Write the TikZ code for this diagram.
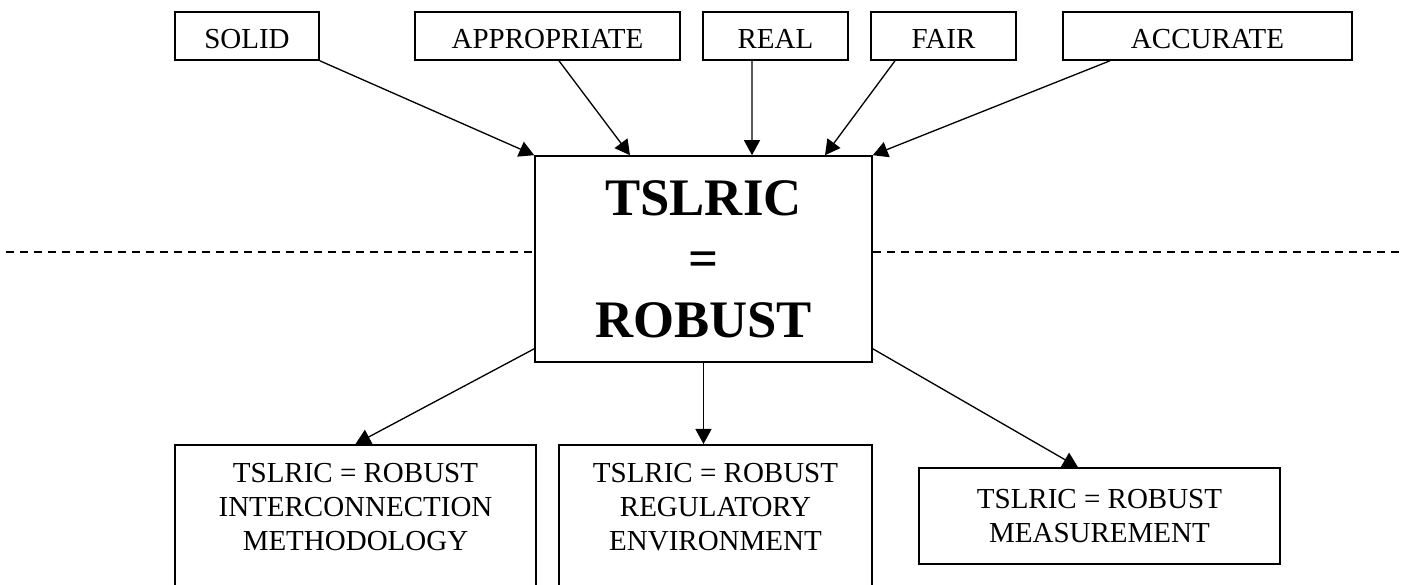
\documentclass[tikz,border=0pt]{standalone}
\usepackage{fontspec}
\setmainfont{Liberation Serif}
\usetikzlibrary{arrows.meta}

\begin{document}
\begin{tikzpicture}[
  quality/.style={draw,line width=0.9pt,minimum height=0.96cm,inner sep=0pt,text height=14.8pt,text depth=0pt,font=\fontsize{16.5}{19.3}\selectfont},
  hub/.style={draw,line width=0.9pt,minimum width=6.74cm,minimum height=4.12cm,align=center,font=\fontsize{30}{34.7}\selectfont\bfseries},
  outcome/.style={draw,line width=0.9pt,minimum width=7.22cm,inner xsep=0pt,inner ysep=0.38cm,align=center,font=\fontsize{16.5}{19.3}\selectfont},
  link/.style={line width=0.75pt,-{Triangle[length=0.3cm,width=0.32cm]}},
  divider/.style={line width=1pt,dash pattern=on 0.16cm off 0.12cm}]
\useasboundingbox (0,0) rectangle (28.08,-11.7);
\clip (0,0) rectangle (28.08,-11.7);

% top row
\node[quality,minimum width=2.88cm] (solid) at (4.94,-0.72) {SOLID};
\node[quality,minimum width=5.30cm] (appropriate) at (10.95,-0.72) {APPROPRIATE};
\node[quality,minimum width=2.90cm] (real) at (15.51,-0.72) {REAL};
\node[quality,minimum width=2.90cm] (fair) at (18.87,-0.72) {FAIR};
\node[quality,minimum width=5.78cm] (accurate) at (24.15,-0.72) {ACCURATE};

% middle
\node[hub] (hub) at (14.07,-5.18) {TSLRIC\\=\\ROBUST};
\coordinate (dashL) at (0.12,-5.04);
\coordinate (dashR) at (28.08,-5.04);
\draw[divider] (dashL) -- (dashL -| hub.west);
\draw[divider] (dashR -| hub.east) -- (dashR);

% bottom row
\node[outcome,anchor=north] (method) at (7.11,-8.88) {TSLRIC = ROBUST\\INTERCONNECTION\\METHODOLOGY\\\mbox{}};
\node[outcome,anchor=north,minimum width=6.26cm] (regulatory) at (14.31,-8.88) {TSLRIC = ROBUST\\REGULATORY\\ENVIRONMENT\\\mbox{}};
\node[outcome,minimum height=1.92cm,inner ysep=0pt] (measure) at (21.99,-10.32) {TSLRIC = ROBUST\\MEASUREMENT};

% arrows in
\draw[link] (solid.south east) -- (hub.north west);
\draw[link] ([xshift=0.23cm]appropriate.south) -- ([xshift=-1.47cm]hub.north);
\draw[link] ([xshift=-0.47cm]real.south) -- ([xshift=0.97cm]hub.north);
\draw[link] ([xshift=-0.97cm]fair.south) -- ([xshift=2.43cm]hub.north);
\draw[link] ([xshift=-1.95cm]accurate.south) -- (hub.north east);

% arrows out
\draw[link] ([yshift=0.28cm]hub.south west) -- (method.north);
\draw[link] (hub.south) -- (hub.south |- regulatory.north);
\draw[link] ([yshift=0.28cm]hub.south east) -- ([xshift=-0.43cm]measure.north);
\end{tikzpicture}
\end{document}
